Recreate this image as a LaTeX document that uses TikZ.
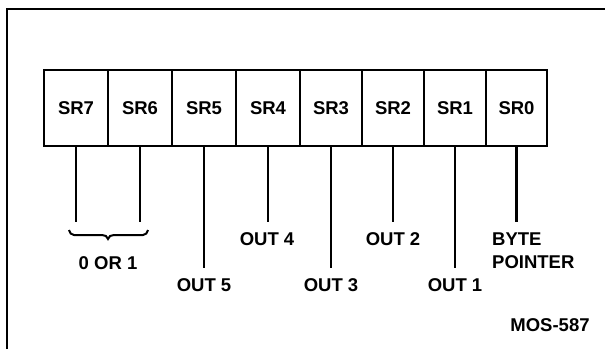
\documentclass[tikz,border=0pt]{standalone}
\usepackage{fontspec}
\setmainfont{Liberation Sans}
\begin{document}
\begin{tikzpicture}[x=1pt,y=-1pt,
  regbox/.style={draw,line width=2.3pt,minimum height=76pt,inner sep=0pt,font=\fontsize{18.5}{21}\selectfont\bfseries},
  lead/.style={line width=2.2pt},
  lbl/.style={inner sep=0pt,font=\fontsize{18.5}{21}\selectfont\bfseries}]
\useasboundingbox (0,0) rectangle (605,349);
% frame
\draw[line width=2.2pt] (7,349) -- (7,9) -- (605,9);
% register boxes
\node[regbox,minimum width=64pt] (sr7) at (76,108) {SR7};
\node[regbox,minimum width=64pt] (sr6) at (140,108) {SR6};
\node[regbox,minimum width=64pt] (sr5) at (204,108) {SR5};
\node[regbox,minimum width=64pt] (sr4) at (268,108) {SR4};
\node[regbox,minimum width=62pt] (sr3) at (331,108) {SR3};
\node[regbox,minimum width=62pt] (sr2) at (393,108) {SR2};
\node[regbox,minimum width=62pt] (sr1) at (455,108) {SR1};
\node[regbox,minimum width=61pt] (sr0) at (516.5,108) {SR0};
% line ends
\coordinate (e7) at (76,222);
\coordinate (e6) at (140,222);
\coordinate (e5) at (204,268);
\coordinate (e4) at (268,222);
\coordinate (e3) at (331,268);
\coordinate (e2) at (393,222);
\coordinate (e1) at (455,268);
\coordinate (e0) at (516.5,222);
\foreach \i in {0,...,7} {\draw[lead] (sr\i.south) -- (e\i);}
% brace
\coordinate (bl) at (69,230);
\coordinate (bm) at (108,239);
\coordinate (br) at (148,230);
\draw[line width=2pt] (bl) to[out=-80,in=180] (74,235) -- (102,235) to[out=0,in=100] (bm)
  to[out=80,in=180] (114,235) -- (143,235) to[out=0,in=-100] (br);
% labels
\node[lbl] (l01) at (108,263) {0 OR 1};
\node[lbl] (o5) at (204,285) {OUT 5};
\node[lbl] (o4) at (267,239) {OUT 4};
\node[lbl] (o3) at (331,285) {OUT 3};
\node[lbl] (o2) at (393,239) {OUT 2};
\node[lbl] (o1) at (455,285) {OUT 1};
\node[lbl,anchor=west,align=left,font=\fontsize{18.5}{23}\selectfont\bfseries] (bp) at (492,251) {BYTE\\POINTER};
\node[lbl] (mos) at (550,325) {MOS-587};
\end{tikzpicture}
\end{document}
